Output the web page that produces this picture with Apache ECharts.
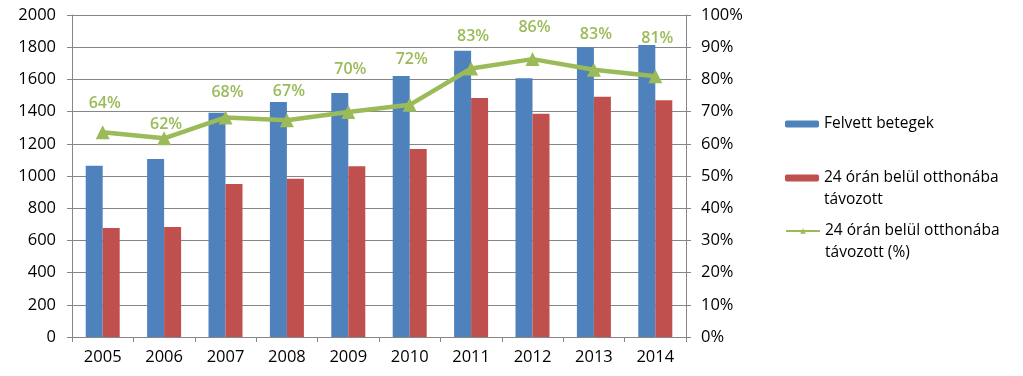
<!DOCTYPE html>
<html>
<head>
<meta charset="utf-8">
<script src="https://cdn.jsdelivr.net/npm/echarts@6/dist/echarts.min.js"></script>
<style>
  html, body { margin: 0; padding: 0; background: #fff; }
  #chart { width: 1023px; height: 376px; }
</style>
</head>
<body>
<div id="chart"></div>
<script>
const years = ['2005', '2006', '2007', '2008', '2009', '2010', '2011', '2012', '2013', '2014']
const admitted = [1064, 1106, 1393, 1460, 1516, 1621, 1778, 1607, 1799, 1814]
const wentHome = [677, 683, 950, 983, 1060, 1168, 1484, 1387, 1493, 1470]
const wentHomePct = [63.6, 61.7, 68.2, 67.3, 69.9, 72.1, 83.4, 86.3, 83.0, 81.0]
// extra lift of each % label (px), the labels are hand placed in the original
const labelLift = [10, -5, 6, 10, 23, 26, 13, 13, 16, 19]

const nameBlue = 'Felvett betegek'
const nameRed = '24 órán belül otthonába távozott'
const namePct = '24 órán belül otthonába távozott (%)'

const font = 'Open Sans'
const axisGray = '#868686'

const chart = echarts.init(document.getElementById('chart'))

// two line entries get an empty first line so the icon sits on the first text line
function legendFor(name, top, twoLines) {
  return {
    orient: 'vertical',
    left: 780,
    top: top,
    itemWidth: 34,
    itemHeight: 7,
    data: [name],
    formatter: (n) => twoLines ? '\n' + n.replace(' otthonába ', ' otthonába\n') : n,
    textStyle: {
      fontFamily: font,
      fontSize: 15.5,
      color: '#000',
      lineHeight: 22,
    },
  }
}

chart.setOption({
  animation: false,
  textStyle: { fontFamily: font },
  grid: { left: 72, right: 337, top: 15, bottom: 39, containLabel: false },
  legend: [
    legendFor(nameBlue, 108, false),
    legendFor(nameRed, 140, true),
    legendFor(namePct, 193, true),
  ],
  xAxis: {
    type: 'category',
    data: years,
    axisLine: { lineStyle: { color: axisGray } },
    axisTick: { show: true, length: 5, lineStyle: { color: axisGray } },
    axisLabel: { color: '#000', fontSize: 16.5, fontFamily: font, margin: 12 },
  },
  yAxis: [
    {
      type: 'value',
      min: 0,
      max: 2000,
      interval: 200,
      axisLine: { show: true, lineStyle: { color: axisGray } },
      axisTick: { show: true, length: 5, lineStyle: { color: axisGray } },
      splitLine: { lineStyle: { color: axisGray } },
      axisLabel: { color: '#000', fontSize: 16.5, fontFamily: font, margin: 16, formatter: (v) => String(v) },
    },
    {
      type: 'value',
      min: 0,
      max: 100,
      interval: 10,
      position: 'right',
      axisLine: { show: true, lineStyle: { color: axisGray } },
      axisTick: { show: true, length: 5, lineStyle: { color: axisGray } },
      splitLine: { show: false },
      axisLabel: { color: '#000', fontSize: 16.5, fontFamily: font, margin: 15, formatter: '{value}%' },
    },
  ],
  series: [
    {
      name: nameBlue,
      type: 'bar',
      data: admitted,
      barWidth: 17,
      barGap: '0%',
      itemStyle: { color: '#4F81BD' },
    },
    {
      name: nameRed,
      type: 'bar',
      data: wentHome,
      barWidth: 17,
      itemStyle: { color: '#C0504D' },
    },
    {
      name: namePct,
      type: 'line',
      yAxisIndex: 1,
      data: wentHomePct.map((v, i) => ({
        value: v,
        label: { offset: [2, -labelLift[i]] },
      })),
      symbol: 'triangle',
      symbolSize: 14,
      lineStyle: { color: '#9BBB59', width: 4.5 },
      itemStyle: { color: '#9BBB59' },
      label: {
        show: true,
        position: 'top',
        distance: 4,
        color: '#9BBB59',
        fontWeight: 600,
        fontSize: 16,
        fontFamily: font,
        formatter: (p) => Math.round(p.value) + '%',
      },
      z: 5,
    },
  ],
})
</script>
</body>
</html>
